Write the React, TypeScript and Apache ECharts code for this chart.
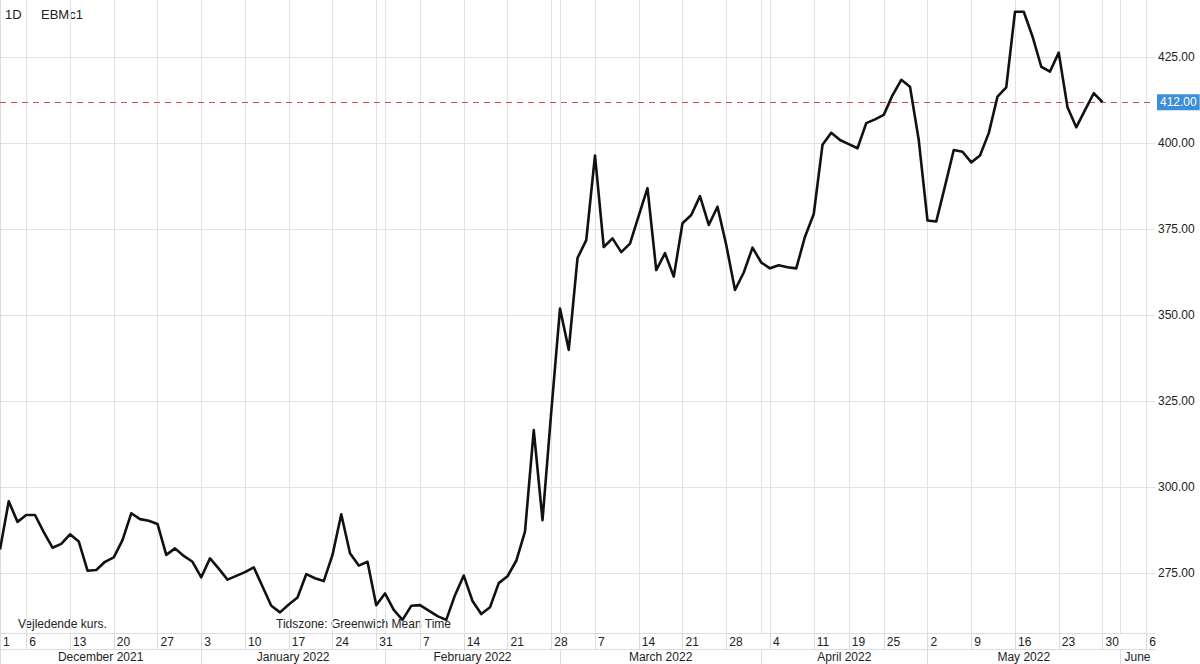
import { useEffect, useRef } from 'react';
import * as echarts from 'echarts';

// Trading calendar (weekdays between these dates, minus exchange holidays)
const START_DATE = '2021-12-01';
const END_DATE = '2022-06-07';
const HOLIDAYS = ['2022-04-15', '2022-04-18'];

// Daily closing values, Dec 1 2021 -> May 30 2022
const PRICES = [
  282, 296, 290, 292, 292, 287, 282.5, 283.6, 286.4, 284.3,
  275.8, 276, 278.4, 279.7, 284.7, 292.5, 290.8, 290.3, 289.4, 280.4,
  282.3, 280.1, 278.4, 273.9, 279.4, 276.4, 273.2, 274.3, 275.4, 276.8,
  271.2, 265.6, 263.7, 266, 268, 274.8, 273.6, 272.8, 280.4, 292.2,
  280.9, 277.3, 278.4, 265.8, 269.2, 264.4, 261.5, 265.6, 265.8, 264.2,
  262.6, 261.5, 268.7, 274.4, 267, 263.2, 265.2, 272.2, 274.2, 278.7,
  287.2, 316.7, 290.5, 322, 352, 340, 366.7, 371.9, 396.5, 369.9,
  372.4, 368.4, 370.9, 379, 387, 363.2, 368.1, 361.3, 376.8, 379.2,
  384.7, 376.3, 381.6, 370.5, 357.4, 362.5, 369.7, 365.4, 363.7, 364.6,
  364, 363.7, 372.9, 379.5, 399.6, 403.1, 401, 399.8, 398.6, 405.9,
  407, 408.3, 414, 418.5, 416.5, 401, 377.6, 377.3, 387.6, 398.1,
  397.6, 394.5, 396.5, 403, 413.6, 416.3, 438.3, 438.3, 431.1, 422.3,
  420.9, 426.4, 410.5, 404.7, 409.7, 414.6, 412,
];

const Y_TICKS = [275, 300, 325, 350, 375, 400, 425];
const Y_MIN = 257.7;
const Y_MAX = 441.7;
const MONTH_LABELS = ['December 2021', 'January 2022', 'February 2022', 'March 2022', 'April 2022', 'May 2022', 'June'];
const LAST_PRICE = 412;
const HEADER_LABELS = ['1D', 'EBMc1'];
const FOOTNOTES = ['Vejledende kurs.', 'Tidszone: Greenwich Mean Time'];

const FONT = 'Helvetica, Arial, "Liberation Sans", sans-serif';
const GRID_COLOR = '#e3e3e3';
const TEXT_COLOR = '#222';

function buildDates(): string[] {
  const out: string[] = [];
  const d = new Date(START_DATE + 'T00:00:00Z');
  const end = new Date(END_DATE + 'T00:00:00Z');
  while (d.getTime() <= end.getTime()) {
    const dow = d.getUTCDay();
    const iso = d.toISOString().slice(0, 10);
    if (dow !== 0 && dow !== 6 && !HOLIDAYS.includes(iso)) out.push(iso);
    d.setUTCDate(d.getUTCDate() + 1);
  }
  return out;
}

export default function App() {
  const ref = useRef<HTMLDivElement>(null);

  useEffect(() => {
    if (!ref.current) return;
    const chart = echarts.init(ref.current, undefined, { renderer: 'svg' });

    const dates = buildDates();
    const N = dates.length;
    const dayMs = 86400000;
    const isWeekStart = dates.map((d, i) =>
      i === 0 || (Date.parse(d) - Date.parse(dates[i - 1])) / dayMs > 1
    );
    const isMonthStart = dates.map((d, i) => i > 0 && d.slice(0, 7) !== dates[i - 1].slice(0, 7));
    const monthStarts: number[] = [0];
    isMonthStart.forEach((m, i) => { if (m) monthStarts.push(i); });
    const monthCenters = monthStarts.map((s, k) =>
      (s + (k + 1 < monthStarts.length ? monthStarts[k + 1] : N - 1)) / 2
    );

    chart.setOption({
      animation: false,
      backgroundColor: '#ffffff',
      textStyle: { fontFamily: FONT },
      grid: { left: 0, right: 45, top: 0, bottom: 31, containLabel: false },
      xAxis: [
        {
          type: 'category',
          data: dates,
          boundaryGap: false,
          position: 'bottom',
          axisLine: { show: true, lineStyle: { color: '#dcdcdc', width: 1 } },
          axisTick: {
            show: true,
            length: 16,
            interval: (i: number) => isWeekStart[i],
            lineStyle: { color: '#dcdcdc' },
          },
          axisLabel: {
            interval: (i: number) => isWeekStart[i],
            formatter: (v: string) => String(parseInt(v.slice(8, 10), 10)),
            align: 'left',
            padding: [0, 0, 0, 3],
            margin: 3,
            color: TEXT_COLOR,
            fontSize: 12,
            fontFamily: FONT,
          },
          splitLine: {
            show: true,
            interval: (i: number) => isWeekStart[i] || isMonthStart[i],
            lineStyle: { color: GRID_COLOR, width: 1 },
          },
        },
        {
          type: 'value',
          min: 0,
          max: N - 1,
          position: 'bottom',
          offset: 16,
          axisLine: { show: true, lineStyle: { color: '#dcdcdc', width: 1 } },
          axisTick: {
            show: true,
            length: 16,
            customValues: monthStarts,
            lineStyle: { color: '#dcdcdc' },
          },
          axisLabel: {
            customValues: monthCenters,
            formatter: (v: number) => {
              const k = monthCenters.findIndex((c) => Math.abs(c - v) < 0.01);
              return k >= 0 ? MONTH_LABELS[k] : '';
            },
            margin: 2,
            color: TEXT_COLOR,
            fontSize: 12,
            fontFamily: FONT,
          },
          splitLine: { show: false },
        },
      ],
      yAxis: {
        type: 'value',
        position: 'right',
        min: Y_MIN,
        max: Y_MAX,
        axisLine: { show: true, lineStyle: { color: '#dcdcdc' } },
        axisTick: { show: true, length: 3, customValues: Y_TICKS, lineStyle: { color: '#dcdcdc' } },
        axisLabel: {
          customValues: Y_TICKS,
          formatter: (v: number) => v.toFixed(2),
          margin: 3,
          color: TEXT_COLOR,
          fontSize: 12,
          fontFamily: FONT,
        },
        splitLine: { show: true, lineStyle: { color: GRID_COLOR, width: 1 } },
      },
      series: [
        {
          type: 'line',
          xAxisIndex: 0,
          yAxisIndex: 0,
          data: PRICES,
          symbol: 'none',
          lineStyle: { color: '#111111', width: 2.6, join: 'round' },
          z: 3,
          markLine: {
            silent: true,
            symbol: ['none', 'none'],
            z: 2,
            lineStyle: { color: '#d24a4d', type: [6, 5], width: 1 },
            label: {
              show: true,
              position: 'end',
              distance: 2,
              formatter: LAST_PRICE.toFixed(2),
              backgroundColor: '#3b8ed8',
              color: '#ffffff',
              fontSize: 12,
              fontFamily: FONT,
              padding: [2, 3, 2, 3],
            },
            data: [{ yAxis: LAST_PRICE }],
          },
        },
      ],
      graphic: [
        { type: 'text', left: 5, top: 8, style: { text: HEADER_LABELS[0], fontSize: 13, fill: TEXT_COLOR, fontFamily: FONT } },
        { type: 'text', left: 41, top: 8, style: { text: HEADER_LABELS[1], fontSize: 13, fill: TEXT_COLOR, fontFamily: FONT } },
        { type: 'text', left: 18, top: 618, style: { text: FOOTNOTES[0], fontSize: 12, fill: TEXT_COLOR, fontFamily: FONT } },
        { type: 'text', left: 276, top: 618, style: { text: FOOTNOTES[1], fontSize: 12, fill: TEXT_COLOR, fontFamily: FONT } },
      ],
    });

    return () => chart.dispose();
  }, []);

  return (
    <div
      ref={ref}
      style={{ position: 'fixed', left: 0, top: 0, width: 1200, height: 664, background: '#fff' }}
    />
  );
}
